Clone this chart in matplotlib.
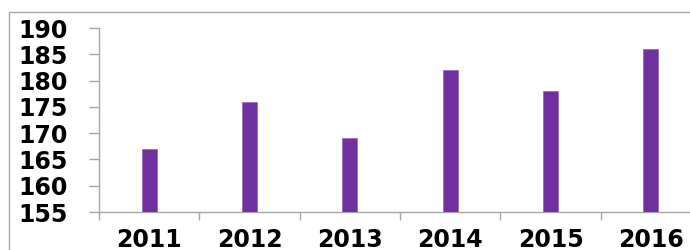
import matplotlib
matplotlib.use("Agg")
import matplotlib.pyplot as plt
from matplotlib.patches import Rectangle
from matplotlib.ticker import FixedLocator

years = ["2011", "2012", "2013", "2014", "2015", "2016"]
values = [167, 176, 169, 182, 178, 186]
y_ticks = [155, 160, 165, 170, 175, 180, 185, 190]

W, H = 690, 250
fig = plt.figure(figsize=(W / 100, H / 100), dpi=100)
fig.patch.set_facecolor("white")

# outer chart-area border (cropped on right/bottom)
fig.patches.append(Rectangle((9 / W, -0.1), 1.2, (H - 12) / H + 0.1,
                             transform=fig.transFigure, fill=False,
                             edgecolor="#a6a6a6", linewidth=1.0))

ax_left, ax_right = 99, 701
ax_top, ax_bottom = 28, 212
ax = fig.add_axes([ax_left / W, (H - ax_bottom) / H,
                   (ax_right - ax_left) / W, (ax_bottom - ax_top) / H])
ax.set_facecolor("none")

x = list(range(len(years)))
ax.bar(x, values, width=0.15, bottom=0, color="#7030A0",
       edgecolor="#9a6bc0", linewidth=0.6, zorder=3)

ax.set_ylim(155, 190)
ax.set_xlim(-0.5, len(years) - 0.5)
ax.set_yticks(y_ticks)
ax.set_yticklabels([str(v) for v in y_ticks])
ax.set_xticks(x)
ax.set_xticklabels(years)
ax.xaxis.set_minor_locator(FixedLocator([i - 0.5 for i in range(len(years) + 1)]))

for s in ["top", "right"]:
    ax.spines[s].set_visible(False)
for s in ["left", "bottom"]:
    ax.spines[s].set_color("#a6a6a6")
    ax.spines[s].set_linewidth(1.0)

for lbl in ax.get_yticklabels() + ax.get_xticklabels():
    lbl.set_fontfamily("DejaVu Sans")
    lbl.set_fontweight("heavy")
    lbl.set_fontsize(17)
    lbl.set_color("black")

ax.tick_params(axis="y", which="major", direction="out", length=7.2,
               width=1.0, color="#a6a6a6", pad=15.5)
ax.tick_params(axis="x", which="major", length=0, pad=11.5)
ax.tick_params(axis="x", which="minor", direction="out", length=6,
               width=1.0, color="#a6a6a6")

fig.savefig("out.png", dpi=100)
